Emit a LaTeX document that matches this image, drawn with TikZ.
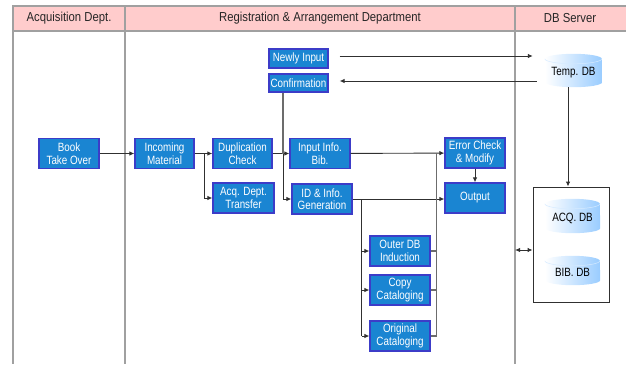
\documentclass[tikz,border=0pt]{standalone}
\usepackage{fontspec}
\setmainfont{Liberation Sans}
\newfontfamily\hdrfont{Liberation Sans}[FakeStretch=0.87]
\newfontfamily\nodefont{Liberation Sans}[FakeStretch=0.82]
\usetikzlibrary{arrows.meta,calc}
\definecolor{hdrpink}{HTML}{FFCCCC}
\definecolor{boxblue}{HTML}{1A85D2}
\definecolor{boxedge}{HTML}{3C3CC8}
\definecolor{dbblue}{HTML}{99CCFF}
\definecolor{lanegray}{HTML}{A0A0A0}
\definecolor{linkgray}{HTML}{303030}
\tikzset{
  lane/.style={draw=lanegray,line width=1.5pt},
  hdr/.style={font=\hdrfont\fontsize{13}{14}\selectfont,text=black!85,inner sep=0pt},
  proc/.style={rectangle,fill=boxblue,draw=boxedge,line width=1.3pt,text=white,align=center,
    inner sep=0pt,minimum width=60pt,minimum height=30pt,
    font=\nodefont\fontsize{12}{12.5}\selectfont},
  dbtext/.style={rectangle,inner sep=0pt,text=black,font=\nodefont\fontsize{12}{12.5}\selectfont},
  link/.style={draw=linkgray,line width=0.9pt},
  arr/.style={link,-{Latex[length=5pt,width=4.5pt]}},
  darr/.style={link,{Latex[length=5pt,width=4.5pt]}-{Latex[length=5pt,width=4.5pt]}},
  graylink/.style={draw=gray!85!black,line width=1.1pt},
}
\newcommand\cylshade[3]{% node name, half width (pt), ellipse radius (pt)
  \shade[left color=white,right color=dbblue,draw=none]
    ($(#1.south west)+(0,-#3)$) -- ($(#1.north west)+(0,#3)$)
    arc[start angle=180,end angle=0,x radius=#2pt,y radius=#3pt]
    -- ($(#1.south east)+(0,-#3)$)
    arc[start angle=0,end angle=-180,x radius=#2pt,y radius=#3pt] -- cycle;
  \draw[white!60!dbblue,line width=0.5pt] ($(#1.north west)+(0,#3)$)
    arc[start angle=180,end angle=360,x radius=#2pt,y radius=#3pt];
}
\begin{document}
\begin{tikzpicture}[x=1pt,y=-1pt]
\useasboundingbox (0,0) rectangle (626,364);
% header band and lanes
\fill[hdrpink] (13,6) rectangle (626,31);
\draw[lane] (626,6) -- (13,6) -- (13,364);
\draw[lane] (13,31) -- (626,31);
\draw[lane] (125,6) -- (125,364);
\draw[lane] (515,6) -- (515,364);
\node[hdr] (h1) at (69,18.5) {Acquisition Dept.};
\node[hdr] (h2) at (320,18.5) {Registration \& Arrangement Department};
\node[hdr] (h3) at (570,18.5) {DB Server};
\coordinate (lanepoint) at (515,250);

% process boxes
\node[proc] (book) at (69,153.5) {Book\\Take Over};
\node[proc,minimum width=59pt] (incoming) at (164.5,153.5) {Incoming\\Material};
\node[proc,minimum width=59pt] (dup) at (242.5,153.5) {Duplication\\Check};
\node[proc,minimum width=61pt] (acq) at (243.5,198) {Acq. Dept.\\Transfer};
\node[proc,minimum width=59pt,minimum height=19pt] (newly) at (298.5,58.5) {Newly Input};
\node[proc,minimum width=59pt,minimum height=18pt] (confirm) at (298.5,83) {Confirmation};
\node[proc] (inputinfo) at (320,153.5) {Input Info.\\Bib.};
\node[proc] (idgen) at (322,199) {ID \& Info.\\Generation};
\node[proc] (errchk) at (475,153) {Error Check\\\& Modify};
\node[proc] (output) at (475,198) {Output};
\node[proc] (outerdb) at (400,251) {Outer DB\\Induction};
\node[proc] (copy) at (400,290) {Copy\\Cataloging};
\node[proc] (original) at (400,336) {Original\\Cataloging};

% DB side
\node[draw=linkgray,line width=0.9pt,minimum width=76pt,minimum height=115pt,inner sep=0pt] (dbbox) at (571,244.5) {};
\node[dbtext,minimum width=57pt,minimum height=33pt] (tempdb) at (573.5,70.5) {};
\node[dbtext,minimum width=55pt,minimum height=34pt] (acqdb) at (572.5,216) {};
\node[dbtext,minimum width=55pt,minimum height=29pt] (bibdb) at (572.5,270.5) {};
\cylshade{tempdb}{28.5}{5}
\cylshade{acqdb}{27.5}{5}
\cylshade{bibdb}{27.5}{5}
\node[dbtext] (tempdbl) at ($(tempdb)+(0,2)$) {Temp. DB};
\node[dbtext] (acqdbl) at ($(acqdb)+(0,2)$) {ACQ. DB};
\node[dbtext] (bibdbl) at ($(bibdb)+(0,2)$) {BIB. DB};

% connectors
\draw[arr] (book) -- (incoming);
\draw[arr] (incoming) -- (dup);
\coordinate (j1) at ($(incoming.east)+(9.5,0)$);
\draw[arr] (j1) |- (acq.west);
\draw[arr] (dup) -- (inputinfo);
\coordinate (c1) at ($(confirm.south)+(-15.5,0)$);
\coordinate (c1b) at ($(c1)+(0,61.5)$);
\draw[graylink] (c1) -- (c1b);
\draw[arr] (c1b) |- (idgen.west);
\coordinate (n1) at ($(newly.east)+(0,-2.5)$);
\draw[arr,shorten <=11pt,shorten >=12pt] (n1) -- (n1 -| tempdb.west);
\coordinate (n2) at ($(confirm.east)+(0,-2)$);
\draw[arr,shorten <=8pt,shorten >=11pt] (n2 -| tempdb.west) -- (n2);
\draw[arr] (inputinfo) -- (errchk);
\draw[arr] (errchk) -- (output);
\draw[arr] (idgen.east) -- (idgen.east -| output.west);
\coordinate (j2) at ($(idgen.east)+(9,0)$);
\coordinate (j2b) at ($(j2)+(0,137)$);
\draw[link] (j2) -- (j2b);
\draw[arr] (j2 |- outerdb.west) -- (outerdb.west);
\draw[arr] (j2 |- copy.west) -- (copy.west);
\draw[arr] (j2 |- original.west) -- (original.west);
\coordinate (col) at ($(errchk.west)+(-8,0)$);
\draw[graylink] (outerdb.east) -- (outerdb.east -| col);
\draw[graylink] (copy.east) -- (copy.east -| col);
\draw[graylink] (original.east) -| (col);
\coordinate (t1) at ($(tempdb.south)+(-5.5,0)$);
\draw[arr] (t1) -- (t1 |- dbbox.north);
\draw[darr] (lanepoint) -- ($(dbbox.west)+(0,5.5)$);
\end{tikzpicture}
\end{document}
